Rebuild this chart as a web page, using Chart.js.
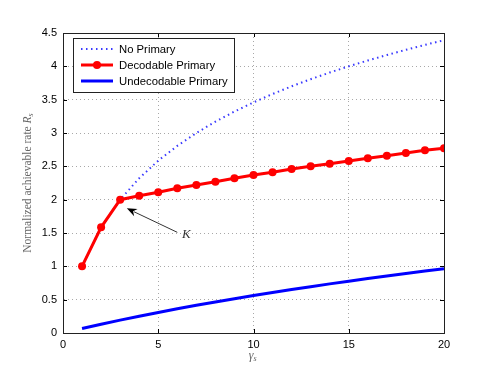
<!DOCTYPE html>
<html>
<head>
<meta charset="utf-8">
<script src="https://cdn.jsdelivr.net/npm/chart.js@4.4.1/dist/chart.umd.min.js"></script>
<style>
  body { margin: 0; background: #fff; }
  #wrap { width: 491px; height: 381px; }
</style>
</head>
<body>
<div id="wrap"><canvas id="myChart" width="491" height="381"></canvas></div>
<script>
// Datos
const gammaS = [1, 2, 3, 4, 5, 6, 7, 8, 9, 10, 11, 12, 13, 14, 15, 16, 17, 18, 19, 20];
const noPrimary = [1.0, 1.585, 2.0, 2.322, 2.585, 2.807, 3.0, 3.17, 3.322, 3.459,
                   3.585, 3.70, 3.807, 3.907, 4.0, 4.087, 4.17, 4.248, 4.322, 4.392];
const decodable = [1.0, 1.585, 2.0, 2.06, 2.11, 2.17, 2.22, 2.27, 2.32, 2.37,
                   2.41, 2.46, 2.50, 2.54, 2.58, 2.62, 2.66, 2.70, 2.74, 2.77];
const undecodable = [0.067, 0.131, 0.193, 0.252, 0.308, 0.363, 0.415, 0.466, 0.514, 0.562,
                     0.608, 0.652, 0.695, 0.737, 0.777, 0.817, 0.855, 0.893, 0.929, 0.965];
const xTicks = [0, 5, 10, 15, 20];
const yTicks = [0, 0.5, 1, 1.5, 2, 2.5, 3, 3.5, 4, 4.5];
const seriesNames = ['No Primary', 'Decodable Primary', 'Undecodable Primary'];

// Anotación K (coordenadas en datos)
const arrowFrom = { x: 6.0, y: 1.51 };
const arrowTo = { x: 3.35, y: 1.87 };
const labelK = { x: 6.25, y: 1.47, text: 'K' };

const toPoints = (ys) => gammaS.map((x, i) => ({ x, y: ys[i] }));

// Marco, ticks hacia adentro, leyenda, anotación y títulos
const matlabLook = {
    id: 'matlabLook',
    afterDraw(chart) {
        const ctx = chart.ctx;
        const { left, right, top, bottom } = chart.chartArea;
        const sx = chart.scales.x;
        const sy = chart.scales.y;
        ctx.save();

        // ticks
        ctx.strokeStyle = '#000';
        ctx.lineWidth = 1;
        ctx.beginPath();
        xTicks.forEach(v => {
            const px = Math.round(sx.getPixelForValue(v)) + 0.5;
            ctx.moveTo(px, bottom); ctx.lineTo(px, bottom - 4);
            ctx.moveTo(px, top); ctx.lineTo(px, top + 4);
        });
        yTicks.forEach(v => {
            const py = Math.round(sy.getPixelForValue(v)) + 0.5;
            ctx.moveTo(left, py); ctx.lineTo(left + 4, py);
            ctx.moveTo(right, py); ctx.lineTo(right - 4, py);
        });
        ctx.stroke();

        // marco
        ctx.strokeStyle = '#222';
        ctx.strokeRect(Math.round(left) + 0.5, Math.round(top) + 0.5,
                       Math.round(right - left), Math.round(bottom - top));

        // anotación
        const x1 = sx.getPixelForValue(arrowFrom.x), y1 = sy.getPixelForValue(arrowFrom.y);
        const x2 = sx.getPixelForValue(arrowTo.x), y2 = sy.getPixelForValue(arrowTo.y);
        const ang = Math.atan2(y2 - y1, x2 - x1);
        ctx.strokeStyle = '#333';
        ctx.lineWidth = 1;
        ctx.beginPath();
        ctx.moveTo(x1, y1);
        ctx.lineTo(x2 - 8 * Math.cos(ang), y2 - 8 * Math.sin(ang));
        ctx.stroke();
        ctx.fillStyle = '#000';
        ctx.beginPath();
        ctx.moveTo(x2, y2);
        ctx.lineTo(x2 - 10 * Math.cos(ang) + 4 * Math.sin(ang), y2 - 10 * Math.sin(ang) - 4 * Math.cos(ang));
        ctx.lineTo(x2 - 7 * Math.cos(ang), y2 - 7 * Math.sin(ang));
        ctx.lineTo(x2 - 10 * Math.cos(ang) - 4 * Math.sin(ang), y2 - 10 * Math.sin(ang) + 4 * Math.cos(ang));
        ctx.closePath();
        ctx.fill();
        ctx.fillStyle = '#333';
        ctx.font = 'italic 13px "Liberation Serif", serif';
        ctx.textAlign = 'left';
        ctx.textBaseline = 'middle';
        ctx.fillText(labelK.text, sx.getPixelForValue(labelK.x), sy.getPixelForValue(labelK.y));

        // leyenda
        const lx = left + 10, ly = top + 5, lw = 161, lh = 54;
        ctx.fillStyle = '#fff';
        ctx.fillRect(lx, ly, lw, lh);
        ctx.strokeStyle = '#222';
        ctx.strokeRect(Math.round(lx) + 0.5, Math.round(ly) + 0.5, lw, lh);
        const ds = chart.data.datasets;
        seriesNames.forEach((name, i) => {
            const yy = ly + 11 + i * 16;
            const d = ds[i];
            ctx.strokeStyle = d.borderColor;
            ctx.lineWidth = d.borderWidth;
            ctx.setLineDash(d.borderDash || []);
            ctx.beginPath();
            ctx.moveTo(lx + 8, yy);
            ctx.lineTo(lx + 40, yy);
            ctx.stroke();
            ctx.setLineDash([]);
            if (d.pointRadius > 0) {
                ctx.fillStyle = d.pointBackgroundColor;
                ctx.beginPath();
                ctx.arc(lx + 24, yy, d.pointRadius, 0, Math.PI * 2);
                ctx.fill();
            }
            ctx.fillStyle = '#000';
            ctx.font = '11.3px "Liberation Sans", Arial, sans-serif';
            ctx.textAlign = 'left';
            ctx.textBaseline = 'middle';
            ctx.fillText(name, lx + 46, yy + 0.5);
        });

        // título eje y
        ctx.fillStyle = '#666';
        ctx.translate(28, (top + bottom) / 2);
        ctx.rotate(-Math.PI / 2);
        const main = 'Normalized achievable rate ';
        ctx.font = '11.5px "Liberation Serif", serif';
        const w1 = ctx.measureText(main).width;
        ctx.font = 'italic 11.5px "Liberation Serif", serif';
        const w2 = ctx.measureText('R').width;
        ctx.font = 'italic 8px "Liberation Serif", serif';
        const w3 = ctx.measureText('s').width;
        let cx = -(w1 + w2 + w3) / 2;
        ctx.textAlign = 'left';
        ctx.textBaseline = 'middle';
        ctx.font = '11.5px "Liberation Serif", serif';
        ctx.fillText(main, cx, 0);
        cx += w1;
        ctx.font = 'italic 11.5px "Liberation Serif", serif';
        ctx.fillText('R', cx, 0);
        cx += w2;
        ctx.font = 'italic 8px "Liberation Serif", serif';
        ctx.fillText('s', cx, 3);
        ctx.setTransform(1, 0, 0, 1, 0, 0);

        // título eje x
        const gx = (left + right) / 2;
        ctx.font = 'italic 12px "Liberation Serif", serif';
        const gw = ctx.measureText('γ').width;
        ctx.textAlign = 'left';
        ctx.fillText('γ', gx - gw, 356);
        ctx.font = 'italic 8px "Liberation Serif", serif';
        ctx.fillText('s', gx, 359);

        ctx.restore();
    }
};

const fmt = (v) => String(v);

const config = {
    type: 'line',
    data: {
        datasets: [
            {
                label: seriesNames[0],
                data: toPoints(noPrimary),
                borderColor: '#3a3aff',
                borderWidth: 2,
                borderDash: [1.5, 3.5],
                pointRadius: 0,
                order: 1
            },
            {
                label: seriesNames[1],
                data: toPoints(decodable),
                borderColor: '#ff0000',
                borderWidth: 3,
                pointRadius: 4,
                pointBackgroundColor: '#ff0000',
                pointBorderColor: '#ff0000',
                pointBorderWidth: 0,
                order: 0
            },
            {
                label: seriesNames[2],
                data: toPoints(undecodable),
                borderColor: '#0000ff',
                borderWidth: 3,
                pointRadius: 0,
                order: 2
            }
        ]
    },
    options: {
        responsive: false,
        animation: false,
        layout: { padding: { top: 33, right: 47, left: 0, bottom: 0 } },
        plugins: { legend: { display: false }, tooltip: { enabled: false } },
        scales: {
            x: {
                type: 'linear',
                min: 0, max: 20,
                afterBuildTicks: (s) => { s.ticks = xTicks.map(v => ({ value: v })); },
                afterFit: (s) => { s.height = 48; },
                grid: { color: '#a8a8a8', drawTicks: false, lineWidth: 1 },
                border: { display: true, color: '#000', dash: [1, 3] },
                ticks: {
                    padding: 5, color: '#000', callback: fmt,
                    font: { family: '"Liberation Sans", Arial, sans-serif', size: 11 }
                }
            },
            y: {
                type: 'linear',
                min: 0, max: 4.5,
                afterBuildTicks: (s) => { s.ticks = yTicks.map(v => ({ value: v })); },
                afterFit: (s) => { s.width = 63; },
                grid: { color: '#a8a8a8', drawTicks: false, lineWidth: 1 },
                border: { display: true, color: '#000', dash: [1, 3] },
                ticks: {
                    padding: 6, color: '#000', callback: fmt,
                    font: { family: '"Liberation Sans", Arial, sans-serif', size: 11 }
                }
            }
        }
    },
    plugins: [matlabLook]
};

new Chart(document.getElementById('myChart'), config);
</script>
</body>
</html>
